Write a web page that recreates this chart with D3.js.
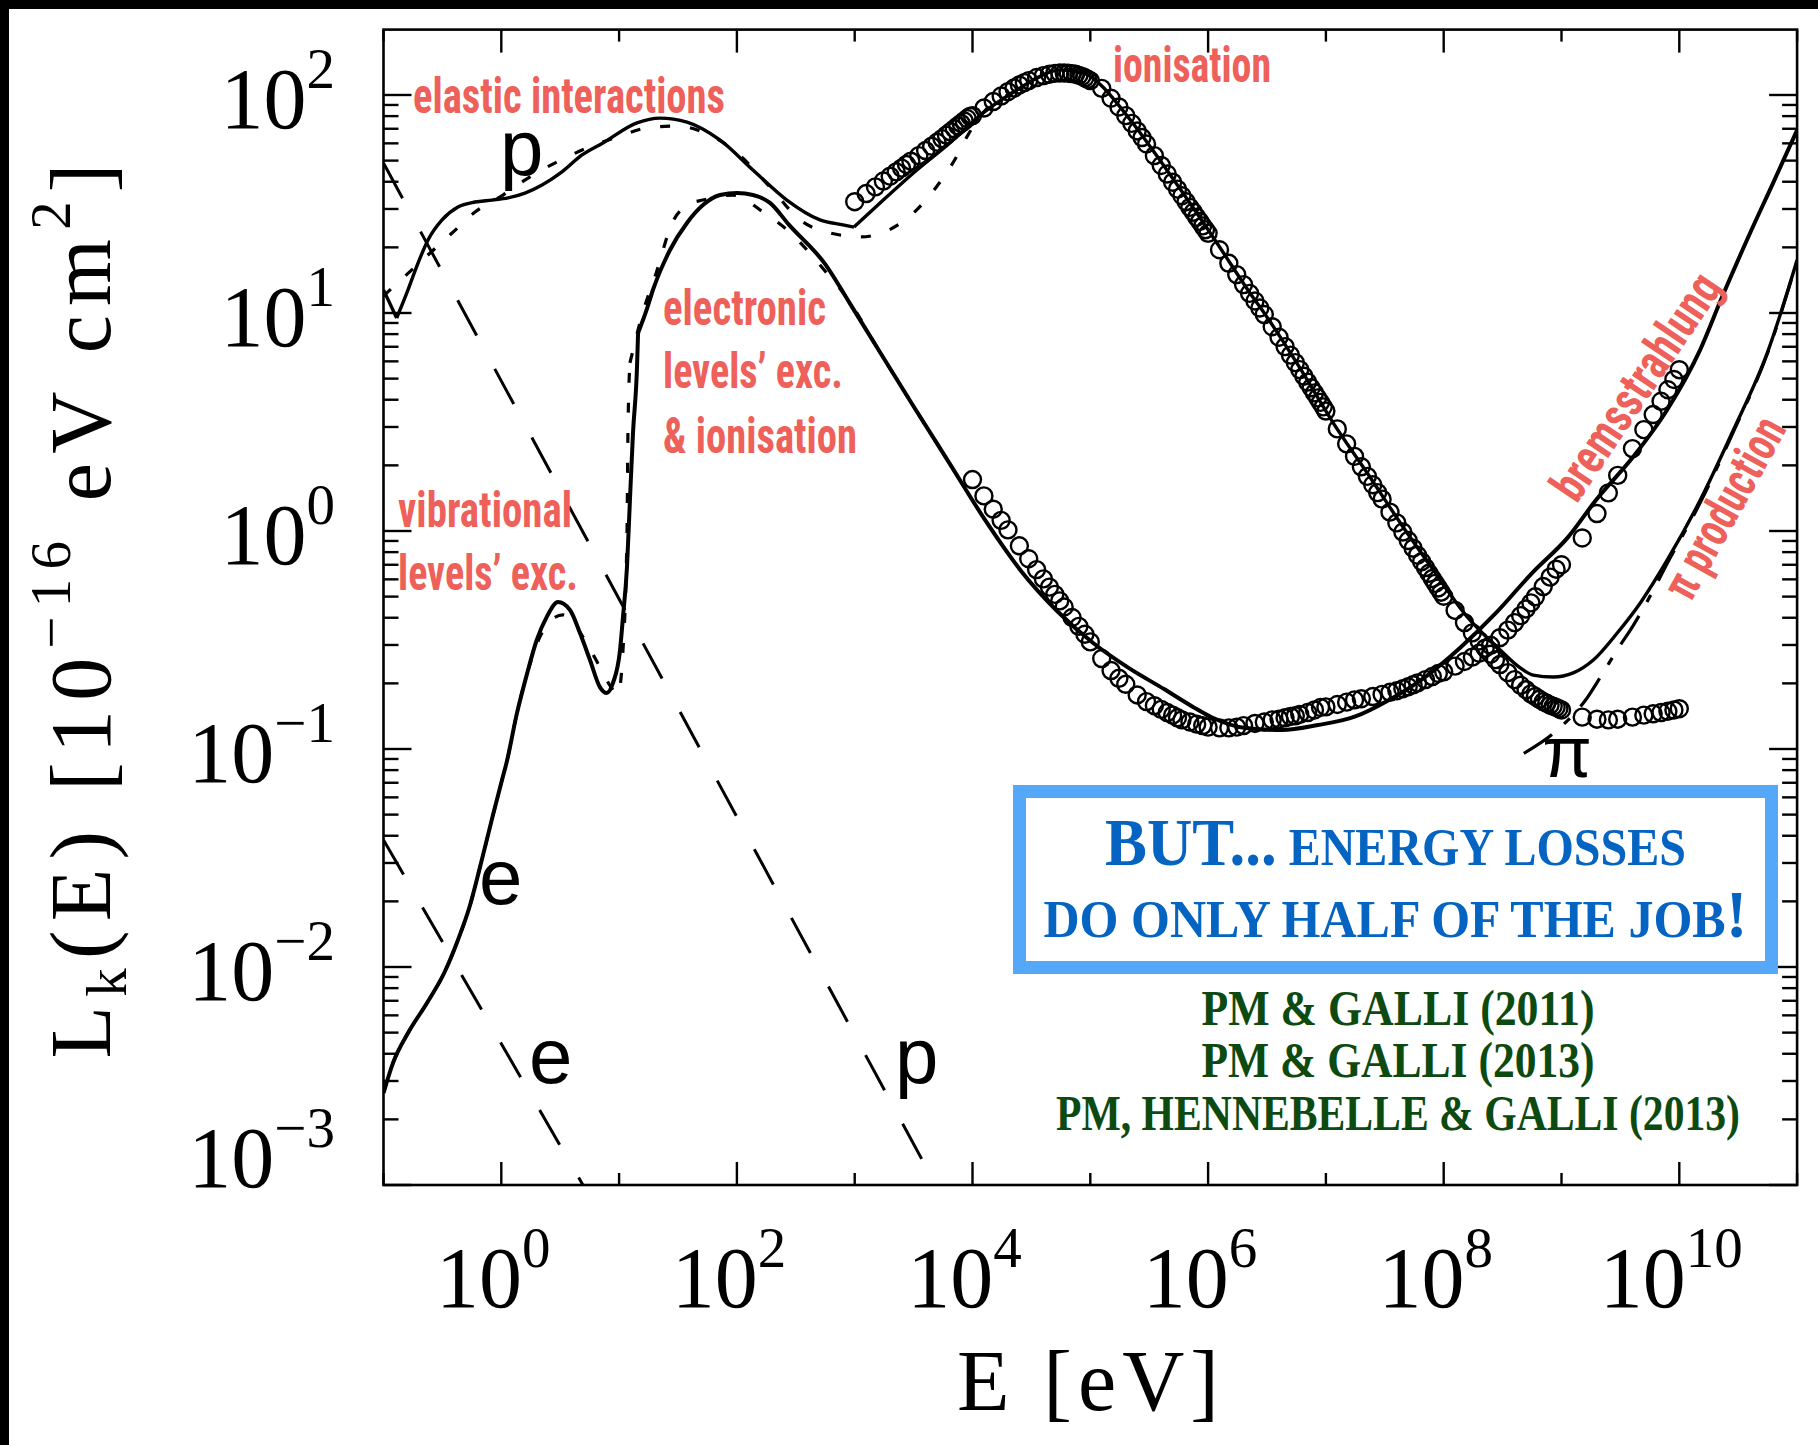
<!DOCTYPE html>
<html><head><meta charset="utf-8">
<script src="https://cdn.jsdelivr.net/npm/d3@7"></script>
<style>body{margin:0;background:#fff}svg{display:block}</style>
</head><body>
<svg id="c" width="1818" height="1445"></svg>
<script>
// ---------------- DATA ----------------
// curves stored as log10(E [eV]) and log10(L [1e-16 eV cm^2])
const pTotalLogE = [-1.0,-0.888,-0.792,-0.707,-0.622,-0.503,-0.368,-0.223,-0.079,0.057,0.201,0.346,0.515,0.685,0.863,1.152,1.347,1.576,1.855,2.136,2.424,2.705,2.900,2.994,3.206,3.528,3.808,4.088,4.377,4.547,4.742,4.937,5.107,5.226,5.362,5.506,5.787,6.075,6.355,6.499,6.779,7.063,7.351,7.632,7.912,8.200,8.480,8.650,8.760,8.930,9.100,9.270,9.473,9.669,9.898,10.178,10.459,10.747,11.0];
const pTotalLogL = [1.106,0.977,1.106,1.229,1.335,1.427,1.486,1.509,1.518,1.528,1.550,1.587,1.647,1.725,1.780,1.872,1.894,1.876,1.794,1.656,1.518,1.427,1.404,1.394,1.500,1.656,1.780,1.917,2.023,2.078,2.115,2.101,2.037,1.963,1.870,1.765,1.550,1.321,1.092,0.982,0.748,0.495,0.266,0.037,-0.179,-0.394,-0.546,-0.628,-0.661,-0.670,-0.651,-0.592,-0.468,-0.330,-0.133,0.142,0.463,0.817,1.243];
const pTotalKinks = [1, 23];

const pAltLogE = [-1.0,-0.834,-0.418,-0.223,0.014,0.227,0.473,0.728,0.982,1.237,1.492,1.712,2.001,2.281,2.536,2.790,3.053,3.291,3.503,3.690,3.843,3.962,4.088,4.377,4.547,4.742];
const pAltLogL = [1.078,1.161,1.367,1.463,1.541,1.619,1.693,1.757,1.807,1.849,1.858,1.830,1.734,1.578,1.427,1.367,1.349,1.381,1.461,1.576,1.697,1.817,1.917,2.023,2.078,2.115];

const eTotalLogE = [-1.0,-0.919,-0.792,-0.631,-0.481,-0.368,-0.270,-0.172,-0.075,0.006,0.046,0.131,0.216,0.301,0.386,0.481,0.583,0.668,0.753,0.837,0.895,0.948,1.008,1.033,1.067,1.092,1.118,1.152,1.161,1.237,1.290,1.432,1.576,1.712,1.857,2.001,2.137,2.281,2.443,2.748,2.960,3.203,3.503,3.809,4.112,4.412,4.718,5.024,5.325,5.626,5.872,6.025,6.322,6.628,6.933,7.239,7.536,7.842,8.147,8.444,8.750,9.056,9.293,9.607,9.896,10.176,10.363,10.601,10.796,11.0];
const eTotalLogL = [-2.578,-2.440,-2.303,-2.165,-2.023,-1.876,-1.725,-1.523,-1.312,-1.142,-1.060,-0.840,-0.660,-0.500,-0.394,-0.326,-0.362,-0.468,-0.592,-0.716,-0.743,-0.697,-0.546,-0.394,-0.165,0.142,0.450,0.752,0.908,1.020,1.110,1.289,1.413,1.495,1.541,1.550,1.541,1.505,1.404,1.225,1.043,0.830,0.569,0.307,0.046,-0.183,-0.367,-0.514,-0.628,-0.725,-0.807,-0.853,-0.904,-0.913,-0.890,-0.853,-0.775,-0.670,-0.532,-0.376,-0.193,-0.028,0.142,0.339,0.555,0.830,1.073,1.367,1.596,1.839];
const eTotalKinks = [28];

const eAltLogE = [-1.0,-0.919,-0.792,-0.631,-0.481,-0.368,-0.270,-0.172,-0.075,0.006,0.046,0.131,0.216,0.328,0.430,0.524,0.610,0.693,0.837,0.930,0.990,1.033,1.067,1.075,1.092,1.200,1.304,1.457,1.600,1.712,1.967,2.222,2.426,2.791,2.935,3.203,3.503,3.809];
const eAltLogL = [-2.578,-2.440,-2.303,-2.165,-2.023,-1.876,-1.725,-1.523,-1.312,-1.142,-1.060,-0.840,-0.660,-0.486,-0.405,-0.385,-0.420,-0.486,-0.624,-0.715,-0.752,-0.546,-0.009,0.450,0.771,1.000,1.165,1.420,1.500,1.518,1.541,1.463,1.381,1.165,1.069,0.830,0.569,0.307];
const eAltKinks = [24];

const pionLogE = [8.680,8.945,9.217,9.352,9.473,9.607,9.751,9.896,10.178,10.459,10.747,11.0];
const pionLogL = [-1.020,-0.922,-0.766,-0.651,-0.545,-0.435,-0.300,-0.150,0.130,0.455,0.813,1.240];

const pCoulombLogE = [-1.0, 3.688];
const pCoulombLogL = [1.688, -3.0];
const eCoulombLogE = [-1.0, 0.693];
const eCoulombLogL = [-1.417, -3.0];

// data points (circles): proton, E [eV] and L
const pDataE = [1e3,1.25e3,1.5e3,1.75e3,2e3,2.25e3,2.5e3,2.75e3,3e3,3.5e3,4e3,4.5e3,5e3,5.5e3,6e3,6.5e3,7e3,7.5e3,8e3,8.5e3,9e3,9.5e3,
1e4,1.25e4,1.5e4,1.75e4,2e4,2.25e4,2.5e4,2.75e4,3e4,3.5e4,4e4,4.5e4,5e4,5.5e4,6e4,6.5e4,7e4,7.5e4,8e4,8.5e4,9e4,9.5e4,
1e5,1.25e5,1.5e5,1.75e5,2e5,2.25e5,2.5e5,2.75e5,3e5,3.5e5,4e5,4.5e5,5e5,5.5e5,6e5,6.5e5,7e5,7.5e5,8e5,8.5e5,9e5,9.5e5,
1e6,1.25e6,1.5e6,1.75e6,2e6,2.25e6,2.5e6,2.75e6,3e6,3.5e6,4e6,4.5e6,5e6,5.5e6,6e6,6.5e6,7e6,7.5e6,8e6,8.5e6,9e6,9.5e6,
1e7,1.25e7,1.5e7,1.75e7,2e7,2.25e7,2.5e7,2.75e7,3e7,3.5e7,4e7,4.5e7,5e7,5.5e7,6e7,6.5e7,7e7,7.5e7,8e7,8.5e7,9e7,9.5e7,
1e8,1.25e8,1.5e8,1.75e8,2e8,2.25e8,2.5e8,2.75e8,3e8,3.5e8,4e8,4.5e8,5e8,5.5e8,6e8,6.5e8,7e8,7.5e8,8e8,8.5e8,9e8,9.5e8,
1e9,1.5e9,2e9,2.5e9,3e9,4e9,5e9,6e9,7e9,8e9,9e9,1e10];
const pDataL = [32.4,35.3,37.9,40.3,42.4,44.4,46.2,48.0,49.7,52.7,55.6,58.2,60.7,63.1,65.5,67.8,70.0,72.1,74.1,76.0,78.0,79.8,
80.4,87.1,93.3,98.9,103.5,107.6,111.2,114.0,116.4,120.2,122.7,124.5,125.6,126.2,126.2,125.9,125.3,124.5,123.0,121.6,119.9,118.0,
116.4,107.2,96.6,88.1,80.4,74.1,68.4,63.8,59.6,52.7,47.5,43.4,39.8,37.0,34.5,32.4,30.5,29.0,27.5,26.3,25.1,24.1,
23.2,19.5,16.9,15.0,13.5,12.3,11.35,10.54,9.84,8.65,7.74,7.01,6.41,5.92,5.50,5.13,4.82,4.54,4.30,4.08,3.89,3.71,
3.55,2.94,2.51,2.20,1.97,1.78,1.63,1.50,1.40,1.22,1.09,0.989,0.904,0.834,0.774,0.723,0.679,0.640,0.605,0.575,0.548,0.524,
0.502,0.432,0.380,0.341,0.313,0.290,0.272,0.257,0.244,0.224,0.208,0.196,0.187,0.179,0.174,0.169,0.165,0.162,0.159,0.157,0.155,0.153,
0.151,0.140,0.137,0.136,0.137,0.140,0.143,0.145,0.147,0.149,0.151,0.153];

// data points (circles): electron
const eDataE = [1e4,1.25e4,1.5e4,1.75e4,2e4,2.5e4,3e4,3.5e4,4e4,4.5e4,5e4,5.5e4,6e4,7e4,8e4,9e4,
1e5,1.25e5,1.5e5,1.75e5,2e5,2.5e5,3e5,3.5e5,4e5,4.5e5,5e5,5.5e5,6e5,7e5,8e5,9e5,
1e6,1.25e6,1.5e6,1.75e6,2e6,2.5e6,3e6,3.5e6,4e6,4.5e6,5e6,5.5e6,6e6,7e6,8e6,9e6,
1e7,1.25e7,1.5e7,1.75e7,2e7,2.5e7,3e7,3.5e7,4e7,4.5e7,5e7,5.5e7,6e7,7e7,8e7,9e7,
1e8,1.25e8,1.5e8,1.75e8,2e8,2.5e8,3e8,3.5e8,4e8,4.5e8,5e8,5.5e8,6e8,7e8,8e8,9e8,
1e9,1.5e9,2e9,2.5e9,3e9,4e9,5e9,6e9,7e9,8e9,9e9,1e10];
const eDataL = [1.722,1.449,1.259,1.119,1.012,0.855,0.746,0.665,0.603,0.553,0.512,0.478,0.448,0.401,0.365,0.336,
0.310,0.260,0.229,0.211,0.198,0.177,0.165,0.158,0.152,0.147,0.143,0.139,0.136,0.133,0.130,0.128,
0.126,0.125,0.125,0.126,0.128,0.131,0.133,0.136,0.137,0.139,0.141,0.142,0.144,0.147,0.151,0.155,
0.156,0.160,0.164,0.168,0.170,0.174,0.178,0.182,0.185,0.189,0.193,0.197,0.201,0.208,0.215,0.222,
0.226,0.240,0.252,0.264,0.275,0.299,0.324,0.351,0.380,0.409,0.439,0.468,0.499,0.556,0.614,0.668,
0.700,0.929,1.202,1.496,1.799,2.388,2.917,3.420,3.936,4.446,4.955,5.495];

// axes
const xDomain = [1e-1, 1e11];
const yDomain = [1e-3, 199.5];
const xLabelValues = [1, 1e2, 1e4, 1e6, 1e8, 1e10];
const xLabelExps = ["0","2","4","6","8","10"];
const yLabelValues = [1e-3, 1e-2, 1e-1, 1, 1e1, 1e2];
const yLabelExps = ["\u22123","\u22122","\u22121","0","1","2"];
const xDecades = [-1,0,1,2,3,4,5,6,7,8,9,10,11];
const yDecades = [-3,-2,-1,0,1,2];

// ---------------- DRAW ----------------
const svg = d3.select('#c');
svg.append('rect').attr('x',0).attr('y',0).attr('width',1818).attr('height',1445).attr('fill','#fff');
svg.append('rect').attr('x',0).attr('y',0).attr('width',1818).attr('height',9).attr('fill','#000');
svg.append('rect').attr('x',0).attr('y',0).attr('width',9).attr('height',1445).attr('fill','#000');

const L = 383.5, R = 1797.1, T = 29.6, B = 1185;
const x = d3.scaleLog().domain(xDomain).range([L, R]);
const y = d3.scaleLog().domain(yDomain).range([B, T]);

const plot = svg.append('g');
const clipId = 'clp';
svg.append('clipPath').attr('id', clipId).append('rect').attr('x',L).attr('y',T).attr('width',R-L).attr('height',B-T);
const curves = plot.append('g').attr('clip-path', `url(#${clipId})`);

const line = d3.line().x(d => x(d[0])).y(d => y(d[1])).curve(d3.curveMonotoneX);
const lineLin = d3.line().x(d => x(d[0])).y(d => y(d[1]));

function pts(le, ll){ return le.map((v,i)=>[Math.pow(10,v), Math.pow(10,ll[i])]); }
function segments(arr, kinks){
  const cuts = [0, ...kinks, arr.length-1];
  const segs = [];
  for (let i=0;i<cuts.length-1;i++) segs.push(arr.slice(cuts[i], cuts[i+1]+1));
  return segs;
}
function drawCurve(le, ll, kinks, style){
  segments(pts(le,ll), kinks).forEach(s=>{
    if (s.length<2) return;
    const p = curves.append('path').attr('d', (s.length>2? line : lineLin)(s))
      .attr('fill','none').attr('stroke','#000').attr('stroke-width', style.w)
      .attr('stroke-linejoin','round');
    if (style.dash) p.attr('stroke-dasharray', style.dash);
  });
}

drawCurve(pCoulombLogE, pCoulombLogL, [], {w:3, dash:'40,38'});
drawCurve(eCoulombLogE, eCoulombLogL, [], {w:3, dash:'40,38'});
drawCurve(pAltLogE, pAltLogL, [], {w:3.2, dash:'10,20'});
drawCurve(eAltLogE, eAltLogL, eAltKinks, {w:3.2, dash:'10,20'});
drawCurve(pionLogE, pionLogL, [], {w:3.2, dash:'34,16,8,16'});
drawCurve(pTotalLogE, pTotalLogL, pTotalKinks, {w:3.4});
drawCurve(eTotalLogE, eTotalLogL, eTotalKinks, {w:4});

curves.append('g').selectAll('circle').data(pDataE.map((e,i)=>[e,pDataL[i]])).join('circle')
  .attr('cx', d=>x(d[0])).attr('cy', d=>y(d[1])).attr('r', 8.5)
  .attr('fill','none').attr('stroke','#000').attr('stroke-width',2.4);
curves.append('g').selectAll('circle').data(eDataE.map((e,i)=>[e,eDataL[i]])).join('circle')
  .attr('cx', d=>x(d[0])).attr('cy', d=>y(d[1])).attr('r', 8.5)
  .attr('fill','none').attr('stroke','#000').attr('stroke-width',2.4);

// frame
plot.append('rect').attr('x',L).attr('y',T).attr('width',R-L).attr('height',B-T)
  .attr('fill','none').attr('stroke','#000').attr('stroke-width',2.6);

// ticks
const tk = plot.append('g').attr('stroke','#000').attr('stroke-width',2.4);
xDecades.forEach(d=>{
  const xv = x(Math.pow(10,d)); const len = (d%2===0)? 23 : 12;
  tk.append('line').attr('x1',xv).attr('x2',xv).attr('y1',B).attr('y2',B-len);
  tk.append('line').attr('x1',xv).attr('x2',xv).attr('y1',T).attr('y2',T+len);
});
yDecades.forEach(d=>{
  for (let m=1;m<=9;m++){
    const v = m*Math.pow(10,d); if (v>yDomain[1]) continue;
    const yv = y(v); const len = (m===1)? 28 : 15;
    tk.append('line').attr('x1',L).attr('x2',L+len).attr('y1',yv).attr('y2',yv);
    tk.append('line').attr('x1',R).attr('x2',R-len).attr('y1',yv).attr('y2',yv);
  }
});

// tick labels
const serif = "'Liberation Serif','DejaVu Serif',serif";
xLabelValues.forEach((v,i)=>{
  const t = svg.append('text').attr('x', x(v)-8).attr('y', 1307).attr('text-anchor','middle')
    .attr('font-family', serif).attr('font-size', 86).attr('fill','#000');
  t.append('tspan').text('10');
  t.append('tspan').attr('dy',-40).attr('font-size',57).text(xLabelExps[i]);
});
yLabelValues.forEach((v,i)=>{
  const base = (i===0) ? y(v)+2 : y(v)+33;
  const t = svg.append('text').attr('x', 335).attr('y', base).attr('text-anchor','end')
    .attr('font-family', serif).attr('font-size', 86).attr('fill','#000');
  t.append('tspan').text('10');
  t.append('tspan').attr('dy',-40).attr('font-size',57).text(yLabelExps[i]);
});

// axis titles
const xt = svg.append('text').attr('x',1088).attr('y',1410).attr('text-anchor','middle')
  .attr('font-family',serif).attr('font-size',86).attr('textLength',262).attr('lengthAdjust','spacing');
xt.text('E [eV]');

const yt = svg.append('text').attr('transform','translate(110,611) rotate(-90)').attr('text-anchor','middle')
  .attr('font-family',serif).attr('font-size',86).attr('textLength',895).attr('lengthAdjust','spacing');
yt.append('tspan').text('L');
yt.append('tspan').attr('dy',16).attr('font-size',57).text('k');
yt.append('tspan').attr('dy',-16).text('(E)  [10');
yt.append('tspan').attr('dy',-40).attr('font-size',57).text('\u221216');
yt.append('tspan').attr('dy',40).text('  eV  cm');
yt.append('tspan').attr('dy',-40).attr('font-size',57).text('2');
yt.append('tspan').attr('dy',40).text(']');

// curve labels (p / e / pi)
const sans = "'Liberation Sans','Arimo',Helvetica,Arial,sans-serif";
function lab(t, xx, yy, fs){ svg.append('text').attr('x',xx).attr('y',yy).attr('font-family',sans).attr('font-size',fs).attr('fill','#000').text(t); }
lab('p', 500, 175, 78);
lab('e', 479, 904, 78);
lab('e', 529, 1083, 78);
lab('p', 895, 1083, 78);
svg.append('text').attr('x',1567).attr('y',777).attr('text-anchor','middle').attr('font-family',sans).attr('font-size',72).text('\u03c0');

// red annotations
const red = '#EE605A';
const cond = "'Liberation Sans Narrow','Roboto Condensed','Roboto','Liberation Sans',sans-serif";
function rlab(t, xx, yy, len){ svg.append('text').attr('x',xx).attr('y',yy).attr('font-family',cond).attr('font-weight',700)
  .attr('font-size',50).attr('fill',red).attr('textLength',len).attr('lengthAdjust','spacingAndGlyphs').text(t); }
rlab('elastic interactions', 413, 113, 312);
rlab('ionisation', 1113, 82, 158);
rlab('electronic', 663, 325, 163);
rlab('levels\u2019 exc.', 663, 388, 180);
rlab('& ionisation', 663, 453, 194);
rlab('vibrational', 398, 527, 174);
rlab('levels\u2019 exc.', 398, 590, 180);
svg.append('text').attr('transform','translate(1650,396) rotate(-56)').attr('text-anchor','middle')
  .attr('font-family',cond).attr('font-weight',700).attr('font-size',50).attr('fill',red)
  .attr('textLength',262).attr('lengthAdjust','spacingAndGlyphs').text('bremsstrahlung');
svg.append('text').attr('transform','translate(1739,516) rotate(-61)').attr('text-anchor','middle')
  .attr('font-family',cond).attr('font-weight',700).attr('font-size',50).attr('fill',red)
  .attr('textLength',200).attr('lengthAdjust','spacingAndGlyphs').text('\u03c0 production');

// message box
svg.append('rect').attr('x',1019.5).attr('y',791.5).attr('width',752).attr('height',176)
  .attr('fill','#fff').attr('stroke','#55A8F8').attr('stroke-width',13);
const blue = '#0563C1';
const b1 = svg.append('text').attr('x',1395.5).attr('y',865).attr('text-anchor','middle').attr('font-family',serif)
  .attr('font-weight',700).attr('fill',blue).attr('font-size',52).attr('textLength',581).attr('lengthAdjust','spacingAndGlyphs');
b1.append('tspan').attr('font-size',68).text('BUT...');
b1.append('tspan').text(' ENERGY LOSSES');
const b2 = svg.append('text').attr('x',1395.5).attr('y',937).attr('text-anchor','middle').attr('font-family',serif)
  .attr('font-weight',700).attr('fill',blue).attr('font-size',52).attr('textLength',704).attr('lengthAdjust','spacingAndGlyphs');
b2.append('tspan').text('DO ONLY HALF OF THE JOB');
b2.append('tspan').attr('font-size',68).text('!');

const green = '#0D4A10';
const refs = ['PM & GALLI (2011)','PM & GALLI (2013)','PM, HENNEBELLE & GALLI (2013)'];
const refY = [1025, 1077, 1130];
const refLen = [393, 393, 684];
refs.forEach((r,i)=>{
  svg.append('text').attr('x',1398).attr('y',refY[i]).attr('text-anchor','middle').attr('font-family',serif)
    .attr('font-weight',700).attr('fill',green).attr('font-size',50).attr('textLength',refLen[i])
    .attr('lengthAdjust','spacingAndGlyphs').text(r);
});
</script>
</body></html>
